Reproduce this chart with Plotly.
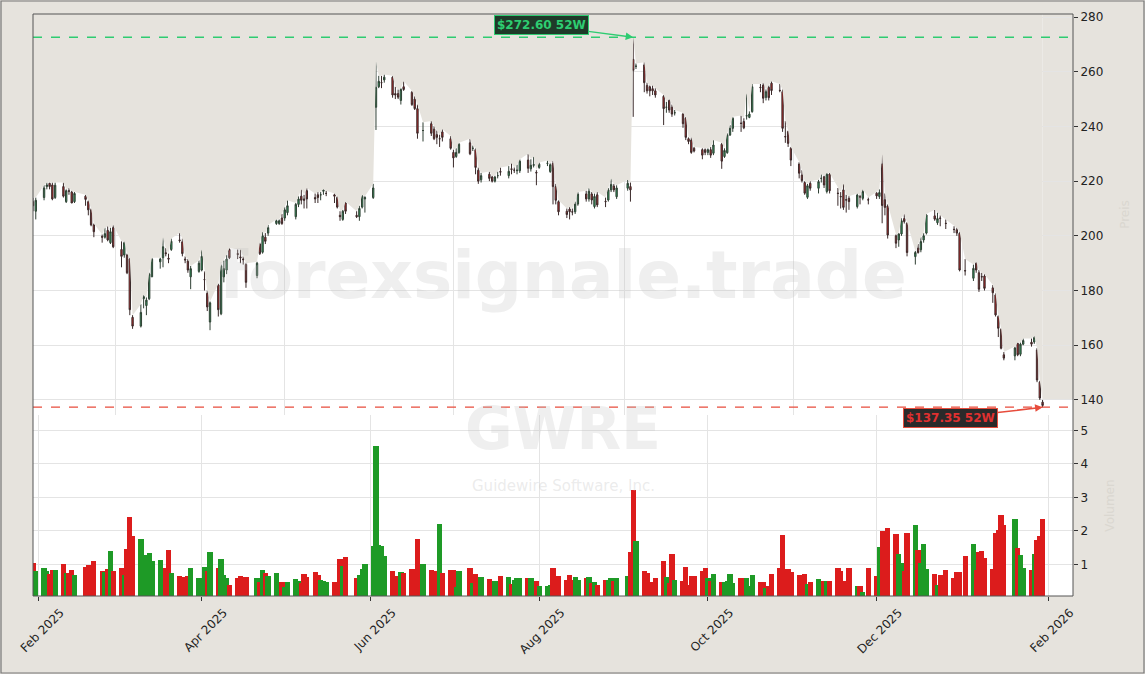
import pandas as pd
import plotly.graph_objects as go
from plotly.subplots import make_subplots

ticker = "GWRE"
company = "Guidewire Software, Inc."
watermark = "forexsignale.trade"
high_52w = 272.60
low_52w = 137.35

holidays = ["2025-02-17", "2025-04-18", "2025-05-26", "2025-06-19", "2025-07-04",
            "2025-09-01", "2025-11-27", "2025-12-25", "2026-01-01", "2026-01-19"]

# o, h, l, c per session
ohlc = [
    (212.5, 214, 209, 211), (209, 214, 206, 213), (214, 218.5, 213, 217.5), (218, 219.5, 217, 218.6),
    (219.2, 219.5, 217, 218), (218.6, 219.5, 213, 213.5), (214, 219.5, 213.5, 218.5), (218, 219.5, 214, 214.5),
    (212.5, 217, 212, 216.5), (216.5, 217.5, 215, 216.3), (216, 216.5, 212, 212), (212.5, 216, 212, 215.5),
    (214.5, 215, 211, 213.3), (212.5, 213, 207.5, 209.5), (209.5, 210, 203.5, 204), (204, 204.5, 199.5, 201.5),
    (199.8, 200.5, 197.5, 199.5), (199.5, 203, 199, 200.8), (202, 203.5, 198, 198.5), (197.5, 203, 197, 201.5),
    (203, 204, 195.5, 196), (195, 198, 188.5, 192.5), (193, 198, 192, 197.5), (193, 193.5, 186, 186.5),
    (191.5, 192, 171, 173), (170.2, 171, 166, 167), (167, 175, 166.5, 172), (177, 178.5, 173.5, 177.8),
    (174.5, 177.5, 171, 176.5), (177, 186.5, 176.5, 186), (185, 192, 185, 191.5), (190.5, 192, 188, 191.5),
    (192, 199.5, 188.5, 196), (193.8, 195.5, 192.5, 193.5), (191.8, 193.5, 190, 191.5), (195, 199, 194.5, 198),
    (198.5, 201, 197.5, 198.3), (197.8, 199, 192.5, 193.5), (191.5, 192.5, 190, 191.2), (190.8, 191.5, 186.5, 187.5),
    (185, 189, 180.5, 188), (187, 191, 186.5, 190), (187.5, 195, 187, 192.5), (184, 187, 180, 184),
    (179, 180, 172.5, 174), (168.5, 176, 165.5, 175.5), (182, 182.5, 170.5, 173), (171.5, 189.5, 171, 189),
    (185, 191, 183, 188), (187.5, 193, 186, 191.5), (195, 195.5, 191.5, 192), (193.5, 195, 191.5, 193.2),
    (192.3, 195, 190, 192), (191.5, 192.5, 189.5, 191.3), (189.5, 190, 181, 183), (185.5, 190.5, 184.5, 190),
    (197, 197.5, 193, 193.5), (194, 201.5, 193.5, 200), (199.5, 201, 197, 198), (201, 204, 200, 203),
    (204.5, 206, 204, 205.5), (204.5, 206, 204, 205.5), (206.5, 208, 204, 204.5), (206.5, 210.5, 205.5, 209.5),
    (208.5, 213, 207.5, 211), (207, 212, 206, 211.5), (211.5, 214.5, 210.5, 213.5), (214.5, 217, 211.5, 213),
    (213.5, 215, 210, 213), (216.5, 217.5, 210, 213.5), (214, 215.5, 212, 213.5), (215, 216, 212, 214),
    (215, 216, 213, 215), (216.3, 217, 215, 216.8), (215.5, 216.5, 214.5, 215.5), (215, 215.5, 212, 214.5),
    (214, 214.5, 210, 210.5), (207.5, 209, 205.5, 207), (206, 209.5, 205.5, 209), (212, 212.5, 208, 209),
    (207.5, 209, 206.5, 207), (207, 211, 205.5, 210), (210.5, 215, 210, 214.5), (213.5, 214.5, 208.5, 214),
    (214, 219, 213.5, 217.5), (247, 263.7, 238.7, 254.3), (254.5, 258.5, 254, 256.5), (256, 258.5, 254, 256),
    (257, 259, 256, 258), (258, 258.5, 250.5, 251.5), (252, 254.5, 250, 251.5), (252, 253.5, 250, 250.7),
    (249.5, 254, 248, 253.5), (254.5, 256.5, 253, 253.5), (252.5, 253, 247.5, 248), (250, 251, 246, 246.5),
    (246.5, 248, 235.5, 237.5), (238.5, 241.5, 234.5, 238.5), (241, 242, 236.5, 237.5), (239, 240, 235, 235.5),
    (237, 238.5, 233.5, 236), (235.5, 237, 232.5, 235.5), (238, 239, 234.5, 236), (235.5, 236.5, 231.5, 232),
    (230.5, 231.5, 225, 228.5), (229, 232, 228.5, 230.5), (230.5, 234, 230, 233.5), (234, 235.5, 229.5, 230),
    (232, 233, 231, 232), (231.5, 232, 222.5, 225), (224, 225, 219, 220), (220.5, 223, 219.5, 222),
    (222.5, 223.5, 220, 221), (221.5, 222, 219.5, 220), (220, 222, 219.5, 221.5), (222, 223.5, 221, 222),
    (223.5, 225, 222, 223.3), (222, 225.5, 221, 223.6), (224.5, 226.5, 222.5, 224.3), (224, 225, 223, 224),
    (223.8, 226, 222.5, 224), (223.8, 228, 223, 227.3), (227.7, 230, 223, 224.7), (224.5, 228, 223.5, 225.8),
    (225.8, 229, 225, 226), (223.2, 224, 218.5, 223), (225, 226.8, 224.5, 226.2), (226.5, 227.5, 225.5, 226.5),
    (223.5, 226.5, 223, 226), (226.5, 227.5, 211.5, 218), (218, 219, 211.5, 213), (212.5, 213, 207.5, 208.8),
    (209, 210, 206.5, 207.8), (209.8, 210.5, 206, 208.8), (208.8, 210, 207.5, 208.7), (208.8, 212.5, 208, 211.6),
    (211.6, 216, 211, 215.3), (215.3, 216.5, 212.5, 213.5), (213.5, 217.5, 212.5, 216.3), (215.3, 216, 211.5, 213.1),
    (210.7, 215.5, 210, 214.4), (215, 216, 210.5, 211.3), (212.6, 214, 210.5, 212.5), (213.1, 217.5, 212.5, 216.8),
    (216.8, 221, 216, 218.8), (218.2, 219, 216, 216.8), (214.3, 218.5, 213.5, 217.5), (217.4, 220.5, 216.5, 219.2),
    (218, 219.5, 212.5, 216.8), (264.5, 272.6, 243.5, 260.5), (262, 263, 261, 262), (262.5, 263.5, 252.5, 256),
    (255, 256, 252, 253), (254.5, 255, 251, 253), (253.8, 255, 251.5, 253), (253, 254, 250.5, 251.5),
    (251, 251.5, 240.5, 246.5), (247, 249, 245, 247), (249.5, 250, 245, 246), (247, 248, 243.5, 244.5),
    (245, 246, 244, 245), (244.5, 245, 239.5, 241), (243, 243.5, 235, 236), (235.5, 236, 233.5, 234.5),
    (235, 236, 230, 230.5), (232, 232.5, 230.5, 231), (231.5, 232, 228, 229.5), (231.5, 232, 229.5, 230.5),
    (230.5, 232, 229.5, 231.5), (231.5, 232.5, 228.5, 229.5), (230.2, 235, 229.5, 233.2), (233.5, 234, 224.5, 227.3),
    (229, 232, 228.5, 231.2), (230.4, 237.5, 230, 236.9), (236.9, 240.5, 236.5, 239.3), (239.3, 243.5, 238, 243),
    (241.2, 244, 238, 241.1), (241.8, 243, 239, 239.5), (243.8, 252.1, 242.5, 243.9), (243.3, 245.5, 243, 244.5),
    (245.4, 255.5, 245, 254.5), (254.3, 255.5, 252.5, 254.2), (255.1, 256, 248.5, 250.3), (250.6, 253.5, 249.5, 252.7),
    (254.3, 255, 249.5, 250.5), (255.8, 256.5, 251.5, 253.1), (253.2, 255.5, 252.5, 253.1), (252.7, 253.5, 238, 239.3),
    (236.3, 242, 234, 236.2), (238.1, 238.5, 232.5, 233.8), (232, 232.5, 225.5, 227.7), (226.3, 227, 221, 222.9),
    (222.2, 224, 219.5, 220.2), (219.5, 220, 215, 215.6), (214.1, 219, 213.5, 218.3), (219.2, 220, 216.5, 217.4),
    (217.4, 220.5, 215.5, 219.8), (221, 222.5, 219.5, 221), (221.6, 222, 217.5, 218.6), (216.2, 223, 215.5, 222.5),
    (222.6, 223, 215.5, 216.5), (215.6, 217.5, 211, 215.5), (214.4, 216, 210, 214.3), (216.8, 219, 209.5, 210.4),
    (213.2, 215, 208.5, 213.1), (213.7, 214.5, 209.5, 212.5), (210.7, 215.5, 210, 214.9), (214.3, 215, 211.5, 214.2),
    (213.7, 217, 213, 216.2), (213.2, 214, 211.5, 213.1), (215.6, 216, 213.5, 214.6), (214.4, 217, 213.5, 215.8),
    (226.3, 229.8, 204.6, 211.1), (213.2, 215.5, 207.5, 210.4), (210.9, 211.5, 199, 200.3), (200, 200.5, 195.5, 197.3),
    (198.5, 201, 196, 200.7), (200.7, 206.5, 200, 205.5), (206.3, 208, 204.5, 205.2), (204.6, 205, 192.5, 193.9),
    (192.4, 194.5, 189.5, 193.9), (195.5, 197, 193.5, 193.9), (194.9, 199.5, 194, 197.9), (198.5, 201, 197.5, 200),
    (201, 208, 200.5, 207.6), (207.3, 209.5, 205.5, 206.1), (204.8, 208.5, 204, 206.3), (206.5, 207.5, 203.5, 206.4),
    (204.6, 206, 202.5, 204.5), (202.4, 203.5, 201, 202.3), (202.2, 203, 200, 201), (200.9, 201.5, 187, 187.5),
    (187.3, 191.5, 185.5, 187.2), (184.5, 189.5, 183.5, 188.1), (190, 190.5, 186.5, 187.5), (186.5, 187.5, 179.5, 180.5),
    (185.1, 186.5, 183.5, 185), (185.3, 186, 180, 180.8), (181, 182, 175.5, 179.2), (178.4, 179, 170.5, 171.1),
    (170.5, 171, 163, 166.2), (165.8, 166.2, 158.5, 158.9), (156.5, 157.5, 154.5, 155.3), (156.1, 159.5, 154.5, 159),
    (160.7, 161, 156, 156.5), (156.7, 161, 156, 160.4), (160.4, 162.5, 160, 161.7), (161.1, 162.5, 159.5, 160.4),
    (161.2, 163.5, 160.5, 162.8), (158.3, 159, 146.5, 147.3), (146.5, 147, 140, 140.7), (139.2, 140, 137.35, 138),
]

# volume in millions
volume = [
    1.05, 0.82, 0.9, 0.82, 0.72, 0.84, 0.84, 1.02, 0.75, 0.74,
    0.84, 0.7, 0.94, 0.99, 0.62, 1.11, 0.82, 0.79, 0.87, 1.39,
    0.82, 0.9, 0.7, 1.47, 2.43, 1.84, 1.75, 1.12, 1.29, 1.35,
    1.09, 1.14, 0.91, 0.91, 1.42, 0.74, 0.65, 0.62, 0.61, 0.65,
    0.91, 0.59, 0.52, 0.94, 0.82, 1.36, 0.89, 1.15, 0.7, 0.59,
    0.4, 0.59, 0.66, 0.46, 0.64, 0.61, 0.49, 0.85, 0.76, 0.65,
    0.76, 0.49, 0.49, 0.34, 0.49, 0.58, 0.52, 0.46, 0.72,
    0.64, 0.79, 0.7, 0.55, 0.52, 0.47, 0.47, 0.42, 1.16, 0.97,
    1.21, 0.61, 0.7, 0.86, 1.0, 1.54, 4.55, 1.57, 1.54, 1.24,
    0.82, 0.64, 0.66, 0.79, 0.76, 0.88, 0.82, 1.75, 1.0, 0.85,
    0.61, 0.82, 2.22, 0.74, 0.85, 0.85, 0.34, 0.82, 0.91, 0.46,
    0.73, 0.58, 0.64, 0.58, 0.49, 0.52, 0.49, 0.67, 0.64, 0.43,
    0.55, 0.61, 0.61, 0.61, 0.61, 0.49, 0.52, 0.37,
    0.37, 0.4, 0.91, 0.46, 0.67, 0.55, 0.7, 0.55, 0.64, 0.55,
    0.61, 0.64, 0.46, 0.49, 0.4, 0.55, 0.55, 0.61, 0.52, 0.61,
    0.66, 1.36, 3.21, 1.69, 0.82, 0.74, 0.49, 0.49, 0.61, 1.09,
    0.64, 0.46, 1.3, 0.55, 0.52, 0.94, 0.4, 0.67, 0.67, 0.82,
    0.91, 0.61, 0.52, 0.73, 0.49, 0.49, 0.52, 0.73, 0.46, 0.61,
    0.61, 0.61, 0.37, 0.7, 0.47, 0.49, 0.31, 0.37, 0.73, 0.91,
    1.87, 0.85, 0.88, 0.79, 0.7, 0.59, 0.73, 0.43, 0.49, 0.58,
    0.4, 0.52, 0.52, 0.52, 0.91, 0.82, 0.52, 0.4, 0.91,
    0.37, 0.37, 0.19, 0.91, 0.67, 1.51, 1.99, 0.52, 2.08, 1.92,
    1.3, 1.03, 0.82, 1.93, 2.17, 1.42, 1.03, 1.6, 0.88, 0.73,
    0.4, 0.7, 0.85, 0.61, 0.79, 0.79, 1.24, 1.6, 0.85, 1.36,
    1.39, 1.18, 0.88, 1.93, 2.04, 2.49, 2.19, 2.37, 1.48, 1.27,
    0.91, 0.85, 1.3, 1.72, 1.84, 2.37,
]

df = pd.DataFrame(ohlc, columns=["open", "high", "low", "close"])
df["volume"] = volume
df["date"] = pd.date_range("2025-01-30", periods=len(df),
                           freq=pd.offsets.CustomBusinessDay(holidays=holidays))

GREEN = "#2ca25f"
RED = "#c62828"
BG = "#e6e3dd"
X_END = "2026-02-10"
Y_TOP = 281.1
vol_colors = ["#1e9a26" if c >= o else "#dc1c1c" for o, c in zip(df.open, df.close)]

fig = make_subplots(rows=2, cols=1, shared_xaxes=True, vertical_spacing=0,
                    row_heights=[0.689, 0.311])

# shaded area above the highs
top = [Y_TOP] * len(df)
fig.add_trace(go.Scatter(x=df.date, y=top, mode="lines", line=dict(width=0),
                         hoverinfo="skip", showlegend=False), row=1, col=1)
fig.add_trace(go.Scatter(x=df.date, y=df.high, mode="lines", line=dict(width=0),
                         fill="tonexty", fillcolor=BG, hoverinfo="skip",
                         showlegend=False), row=1, col=1)
# continue the shade past the last session
fig.add_shape(type="rect", xref="x", yref="y", x0=df.date.iloc[-1], x1=X_END,
              y0=df.high.iloc[-1], y1=Y_TOP, fillcolor=BG, line_width=0, layer="below")

fig.add_trace(go.Bar(x=df.date, y=df.volume, marker_color=vol_colors,
                     marker_line_width=0, width=86400000 * 1.9,
                     showlegend=False), row=2, col=1)

fig.add_trace(go.Candlestick(
    x=df.date, open=df.open, high=df.high, low=df.low, close=df.close,
    increasing=dict(line=dict(color="#2f3f33", width=1), fillcolor=GREEN),
    decreasing=dict(line=dict(color="#3a2a2a", width=1), fillcolor=RED),
    whiskerwidth=0, showlegend=False), row=1, col=1)

fig.add_hline(y=high_52w, line=dict(color="#2ecc71", width=1.3, dash="dash"), row=1, col=1)
fig.add_hline(y=low_52w, line=dict(color="#e74c3c", width=1.3, dash="dash"), row=1, col=1)

i_hi = df.high.idxmax()
i_lo = df.low.idxmin()
fig.add_annotation(x=df.date[i_hi], y=high_52w, xref="x", yref="y",
                   text=f"<b>${high_52w:.2f} 52W</b>", showarrow=True, ax=-92, ay=-12,
                   arrowhead=2, arrowsize=1, arrowwidth=1.5, arrowcolor="#2ecc71",
                   font=dict(color="#2ecc71", size=12, family="DejaVu Sans"),
                   bgcolor="#1f3a29", bordercolor="#2ecc71", borderwidth=1, borderpad=2)
fig.add_annotation(x=df.date[i_lo], y=low_52w, xref="x", yref="y",
                   text=f"<b>${low_52w:.2f} 52W</b>", showarrow=True, ax=-92, ay=11,
                   arrowhead=2, arrowsize=1, arrowwidth=1.5, arrowcolor="#e74c3c",
                   font=dict(color="#e03030", size=12, family="DejaVu Sans"),
                   bgcolor="#2a2a2a", bordercolor="#e74c3c", borderwidth=1, borderpad=2)

# watermarks
fig.add_annotation(x=0.51, y=0.55, xref="paper", yref="paper", text=f"<b>{watermark}</b>",
                   showarrow=False, font=dict(size=66, color="rgba(190,190,190,0.25)", family="DejaVu Sans"))
fig.add_annotation(x=0.51, y=0.225, xref="paper", yref="paper", text=f"<b>{ticker}</b>",
                   showarrow=False, font=dict(size=58, color="rgba(190,190,190,0.25)", family="DejaVu Sans"))
fig.add_annotation(x=0.51, y=0.17, xref="paper", yref="paper", text=company,
                   showarrow=False, font=dict(size=15, color="rgba(190,190,190,0.3)", family="DejaVu Sans"))

# outer figure frame and plot frame
fig.add_shape(type="rect", xref="paper", yref="paper", x0=-32 / 1040, x1=1111 / 1040,
              y0=-77 / 582, y1=595 / 582, line=dict(color="#777", width=1.2), layer="below")
fig.add_shape(type="rect", xref="paper", yref="paper", x0=0, x1=1, y0=0, y1=1,
              line=dict(color="#555", width=1))

axis_common = dict(showgrid=True, gridcolor="#e4e4e4", gridwidth=1, showline=False,
                   ticks="outside", ticklen=4, tickcolor="#333", automargin=False,
                   tickfont=dict(size=12, color="#222"))
fig.update_xaxes(**axis_common, rangeslider_visible=False, type="date",
                 range=["2025-01-30", X_END])
fig.update_xaxes(dtick="M2", tick0="2025-02-01", tickformat="%b %Y", tickangle=-45,
                 showticklabels=True, ticklabeloverflow="allow", ticklabelshift=22,
                 row=2, col=1)
fig.update_xaxes(showticklabels=False, ticks="", row=1, col=1)
fig.update_yaxes(**axis_common, side="right")
fig.update_yaxes(range=[134.5, Y_TOP], dtick=20, row=1, col=1,
                 title=dict(text="Preis", font=dict(size=12, color="#dad7d0"), standoff=18))
fig.update_yaxes(range=[0.06, 5.46], tickvals=[1, 2, 3, 4, 5], row=2, col=1,
                 title=dict(text="Volumen", font=dict(size=12, color="#dad7d0"), standoff=18))

fig.update_layout(
    width=1145, height=674,
    paper_bgcolor=BG, plot_bgcolor="white",
    margin=dict(l=33, r=72, t=14, b=78),
    font=dict(family="DejaVu Sans", color="#222"),
    bargap=0, showlegend=False, hovermode="x",
)

fig.write_html("out.html", config={"displayModeBar": False},
               post_script="document.body.style.margin='0';")
